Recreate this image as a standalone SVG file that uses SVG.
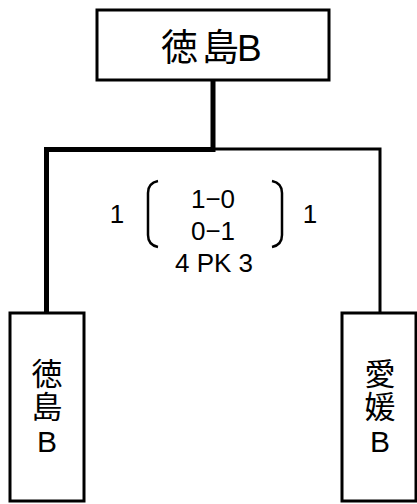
<svg xmlns="http://www.w3.org/2000/svg" width="417" height="504" viewBox="0 0 417 504">
<style>
.box{fill:#fff;stroke:#000;stroke-width:3}
.t{font-family:"Liberation Sans","Noto Sans CJK JP",sans-serif;fill:#000}
.c{text-anchor:middle}
.thick{fill:none;stroke:#000;stroke-width:5;stroke-linejoin:miter}
.thin{fill:none;stroke:#000;stroke-width:3}
.br{fill:none;stroke:#000;stroke-width:2.5}
</style>
<rect width="417" height="504" fill="#fff"/>
<g id="connectors">
<path class="thin" d="M213,149 H380 V313"/>
<path class="thick" d="M213,81 V149.5 H46.5 V313"/>
</g>
<g id="node-top">
<rect class="box" x="97" y="10" width="232" height="70"/>
<text class="t" font-size="37" x="161 202 237" y="61">徳島B</text>
</g>
<g id="node-left">
<rect class="box" x="10" y="313" width="74" height="188"/>
<text class="t c" font-size="31" x="47" y="385">徳</text>
<text class="t c" font-size="31" x="47" y="418">島</text>
<text class="t c" font-size="30" x="47" y="452">B</text>
</g>
<g id="node-right">
<rect class="box" x="342" y="313" width="74" height="188"/>
<text class="t c" font-size="31" x="380" y="385">愛</text>
<text class="t c" font-size="31" x="380" y="418">媛</text>
<text class="t c" font-size="30" x="380" y="452">B</text>
</g>
<g id="score">
<text class="t c" font-size="26" x="117" y="223">1</text>
<text class="t c" font-size="26" x="310" y="223">1</text>
<path class="br" d="M158,181 Q148,183 148,193 V235 Q148,245 158,247"/>
<path class="br" d="M272,181 Q282,183 282,193 V235 Q282,245 272,247"/>
<text class="t c" font-size="26" x="213" y="208">1−0</text>
<text class="t c" font-size="26" x="213" y="240">0−1</text>
<text class="t c" font-size="26" x="214" y="271.5">4 PK 3</text>
</g>
</svg>
